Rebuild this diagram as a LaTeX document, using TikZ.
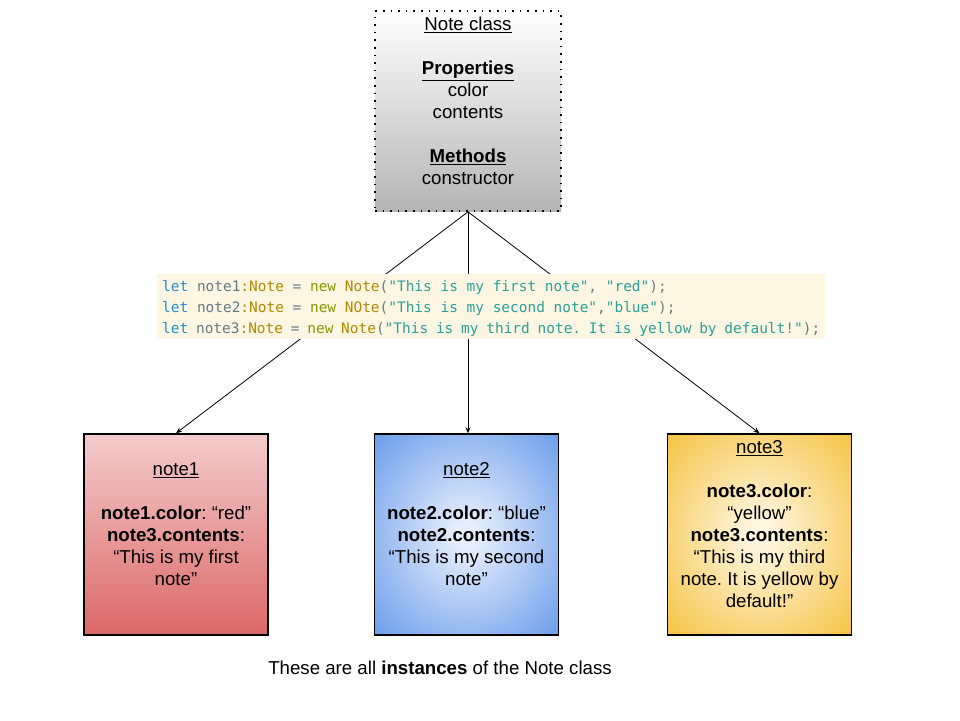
\documentclass[tikz,border=0pt]{standalone}
\usepackage{fontspec}
\setmainfont{Liberation Sans}
\newfontfamily\codefont{DejaVu Sans Mono}
\usepackage{xcolor}
\usetikzlibrary{arrows.meta}

\definecolor{codebg}{HTML}{FDF6E3}
\definecolor{codekw}{HTML}{268BD2}
\definecolor{codetxt}{HTML}{657B83}
\definecolor{codetype}{HTML}{B58900}
\definecolor{codenew}{HTML}{859900}
\definecolor{codestr}{HTML}{2AA198}
\definecolor{redtop}{HTML}{F4CCCC}
\definecolor{redbot}{HTML}{DC6868}
\definecolor{bluein}{HTML}{E6EEFC}
\definecolor{blueout}{HTML}{6D9EEB}
\definecolor{yelin}{HTML}{FFF6DF}
\definecolor{yelout}{HTML}{F5C445}

\pgfdeclareradialshading{blueglow}{\pgfpoint{0bp}{0bp}}
    {color(0bp)=(bluein); color(3bp)=(bluein); color(35bp)=(blueout); color(75bp)=(blueout)}
\pgfdeclareradialshading{yellowglow}{\pgfpoint{0bp}{0bp}}
    {color(0bp)=(yelin); color(3bp)=(yelin); color(35bp)=(yelout); color(75bp)=(yelout)}

\newcommand{\cKw}[1]{\textcolor{codekw}{#1}}
\newcommand{\cTy}[1]{\textcolor{codetype}{#1}}
\newcommand{\cNew}[1]{\textcolor{codenew}{#1}}
\newcommand{\cStr}[1]{\textcolor{codestr}{#1}}

\frenchspacing

\begin{document}
\begin{tikzpicture}[x=1pt, y=-1pt,
    classbox/.style={draw, line width=1.6pt, dash pattern=on 1.6pt off 6pt,
        top color=white, bottom color=black!29,
        minimum width=186pt, minimum height=200pt, inner sep=0pt},
    notebox/.style={draw, line width=1.5pt, minimum width=184pt,
        minimum height=201pt, inner sep=0pt},
    boxtext/.style={align=center, inner sep=0pt,
        font=\fontsize{18.67}{22}\selectfont},
    codestrip/.style={fill=codebg, text=codetxt, align=flush left, anchor=north west,
        text width=658pt, inner xsep=5pt, inner ysep=0pt, minimum height=65pt,
        font=\codefont\fontsize{14.45}{21}\selectfont},
    link/.style={line width=0.8pt, -{Stealth[length=6pt, width=5pt]}}]

    \useasboundingbox (0,0) rectangle (960,720);

    % Class box
    \node[classbox] (noteclass) at (468,111) {};
    \node[boxtext, anchor=north] (classtext) at (468,17)
        {\underline{Note class}\\ \\ \underline{\textbf{Properties}}\\ color\\ contents\\ \\
         \underline{\textbf{Methods}}\\ constructor};

    % Instances
    \node[notebox, top color=redtop, bottom color=redbot] (note1) at (176,534.5) {};
    \node[notebox, shading=blueglow] (note2) at (466.5,534.5) {};
    \node[notebox, shading=yellowglow] (note3) at (759.5,534.5) {};

    \node[boxtext] (note1text) at (176,524)
        {\underline{note1}\\ \\ \textbf{note1.color}: “red”\\ \textbf{note3.contents}:\\
         “This is my first\\ note”};
    \node[boxtext] (note2text) at (466.5,524)
        {\underline{note2}\\ \\ \textbf{note2.color}: “blue”\\ \textbf{note2.contents}:\\
         “This is my second\\ note”};
    \node[boxtext] (note3text) at (759.5,524)
        {\underline{note3}\\ \\ \textbf{note3.color}:\\ “yellow”\\ \textbf{note3.contents}:\\
         “This is my third\\ note. It is yellow by\\ default!”};

    % Links
    \draw[link] (noteclass.south) -- (note1.north);
    \draw[link] (noteclass.south) -- (note2.north -| noteclass.south);
    \draw[link] (noteclass.south) -- (note3.north);

    % Code
    \node[codestrip] (code) at (157,274)
        {\rule{0pt}{14pt}\cKw{let} note1\cTy{:Note} = \cNew{new} \cTy{Note}(\cStr{"This is my first note"}, \cStr{"red"});\\
         \cKw{let} note2\cTy{:Note} = \cNew{new} \cTy{NOte}(\cStr{"This is my second note"},\cStr{"blue"});\\
         \cKw{let} note3\cTy{:Note} = \cNew{new} \cTy{Note}(\cStr{"This is my third note. It is yellow by default!"});};

    % Caption
    \node[boxtext] (caption) at (440,668)
        {These are all \textbf{instances} of the Note class};
\end{tikzpicture}
\end{document}
